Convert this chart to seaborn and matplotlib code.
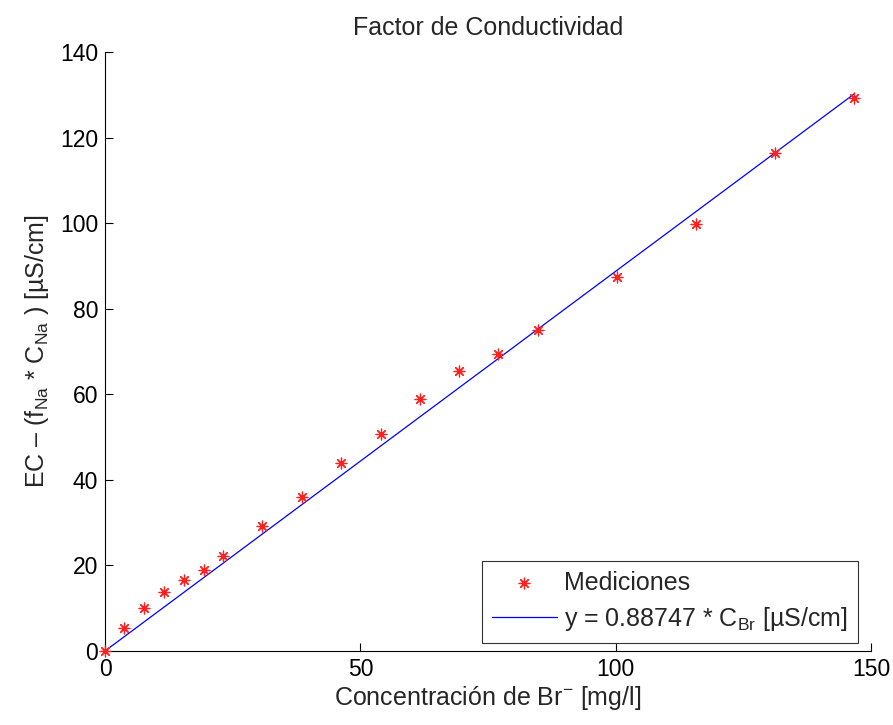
import matplotlib
matplotlib.use("Agg")
import matplotlib.pyplot as plt
import seaborn as sns
import numpy as np
import pandas as pd

conc_br = [0, 3.7, 7.6, 11.6, 15.5, 19.4, 23.1, 30.7, 38.6, 46.2, 54.0, 61.7,
           69.3, 77.0, 84.8, 100.3, 115.7, 131.2, 146.7]
ec_corr = [0, 5.4, 10.0, 13.7, 16.6, 18.9, 22.2, 29.3, 36.1, 43.9, 50.7, 58.9,
           65.4, 69.3, 75.0, 87.3, 99.8, 116.5, 129.3]
slope = 0.88747

sns.set_theme(style="white")
plt.rcParams['font.family'] = ['Liberation Sans', 'DejaVu Sans']
plt.rcParams['mathtext.fontset'] = 'custom'
plt.rcParams['mathtext.rm'] = 'Liberation Sans'
plt.rcParams['mathtext.it'] = 'Liberation Sans:italic'
plt.rcParams['mathtext.bf'] = 'Liberation Sans:bold'

df = pd.DataFrame({"x": conc_br, "y": ec_corr})
fit_x = [0, max(conc_br)]
fit = pd.DataFrame({"x": fit_x, "y": [slope * v for v in fit_x]})

fig = plt.figure(figsize=(8.93, 7.25), dpi=100)
ax = fig.add_axes([0.1176, 0.1021, 0.8578, 0.8262])

sns.scatterplot(data=df, x="x", y="y", ax=ax, marker=(8, 2, 0), s=60,
                color="#ff2020", edgecolor="#ff2020", linewidth=0.9,
                label="Mediciones", zorder=3, clip_on=False)
sns.lineplot(data=fit, x="x", y="y", ax=ax, color="blue", linewidth=0.9,
             label="y = 0.88747 * C$_{\\mathrm{Br}}$ [µS/cm]", zorder=2)

ax.set_xlim(0, 150)
ax.set_ylim(0, 140)
ax.set_xticks([0, 50, 100, 150])
ax.set_yticks(np.arange(0, 141, 20))
ax.tick_params(direction="in", length=6, width=0.8, labelsize=16.5,
               colors="black", top=False, right=False, bottom=True, left=True, pad=5)
for s in ["top", "right"]:
    ax.spines[s].set_visible(False)
for s in ["left", "bottom"]:
    ax.spines[s].set_color("black")
    ax.spines[s].set_linewidth(0.8)

ax.set_title("Factor de Conductividad", fontsize=18, pad=12)
ax.set_xlabel("Concentración de Br$^{\\mathrm{-}}$ [mg/l]", fontsize=18, labelpad=2)
ax.set_ylabel("EC – (f$_{\\mathrm{Na}}$ * C$_{\\mathrm{Na}}$ ) [µS/cm]", fontsize=18, labelpad=6)

leg = ax.legend(loc="lower right", fontsize=18, frameon=True, fancybox=False,
                edgecolor="black", borderpad=0.4, handlelength=2.6,
                handletextpad=0.3, labelspacing=0.4, borderaxespad=0,
                bbox_to_anchor=(0.983, 0.0134))
leg.get_frame().set_linewidth(0.8)

fig.savefig("out.png", dpi=100, facecolor="white")
